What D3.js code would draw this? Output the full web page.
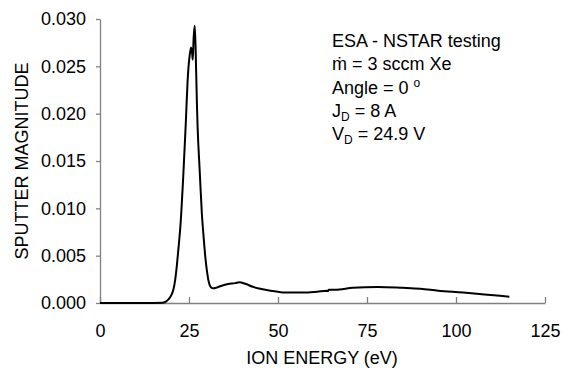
<!DOCTYPE html>
<html>
<head>
<meta charset="utf-8">
<script src="https://cdn.jsdelivr.net/npm/d3@7"></script>
<style>
  body { margin: 0; background: #fff; }
  svg text { font-family: "Liberation Sans", Arial, sans-serif; fill: #000; }
</style>
</head>
<body>
<div id="chart"></div>
<script>
// Ion energy (eV) and sputter magnitude
const energy = [0, 10, 15, 17.5, 18.5, 19.3, 20, 20.6, 21.1, 21.6, 22.1, 22.6, 23.4, 24.1, 24.6, 25.2, 25.6, 25.9, 26.05, 26.3, 26.6, 26.85, 27.2, 27.4, 28.0, 28.6, 29.1, 29.6, 30.0, 30.4, 30.8, 31.2, 31.7, 32.5, 34, 36, 38, 39.1, 41, 43, 45, 48, 52, 57, 61, 63.7, 64.0, 64.3, 66, 71, 78, 85, 90, 95, 102, 108, 115];
const magnitude = [0, 0, 0.00001, 0.00003, 0.00015, 0.0004, 0.0008, 0.0014, 0.0024, 0.0040, 0.0060, 0.0082, 0.0135, 0.0190, 0.0234, 0.0262, 0.0270, 0.0263, 0.0257, 0.0280, 0.0293, 0.0270, 0.0214, 0.0188, 0.0140, 0.0095, 0.0070, 0.0048, 0.0035, 0.0025, 0.0019, 0.00165, 0.00155, 0.0016, 0.0018, 0.0020, 0.0021, 0.0022, 0.0020, 0.0017, 0.0015, 0.0013, 0.0011, 0.0011, 0.0012, 0.0013, 0.00125, 0.0014, 0.0014, 0.0016, 0.0017, 0.0016, 0.0015, 0.0013, 0.0011, 0.0009, 0.00067];

const xTicks = [0, 25, 50, 75, 100, 125];
const yTicks = [0, 0.005, 0.010, 0.015, 0.020, 0.025, 0.030];

const W = 565, H = 372;

const svg = d3.select("#chart").append("svg")
    .attr("width", W)
    .attr("height", H);

const x = d3.scaleLinear().domain([0, 125]).range([100, 545]);
const y = d3.scaleLinear().domain([0, 0.030]).range([303, 19]);

// Axes
const xAxis = svg.append("g")
    .attr("transform", "translate(0,303)")
    .call(d3.axisBottom(x).tickValues(xTicks).tickSize(-6).tickSizeOuter(0).tickPadding(21));

const yAxis = svg.append("g")
    .attr("transform", "translate(100,0)")
    .call(d3.axisLeft(y).tickValues(yTicks).tickFormat(d3.format(".3f")).tickSize(4).tickSizeOuter(0).tickPadding(10));

[xAxis, yAxis].forEach(g => {
    g.select(".domain").attr("stroke", "#808080").attr("stroke-width", 1.3);
    g.selectAll(".tick line").attr("stroke", "#808080").attr("stroke-width", 1.3);
    g.selectAll(".tick text")
        .attr("font-family", "Liberation Sans, Arial, sans-serif")
        .attr("font-size", 18)
        .attr("fill", "#000");
});

// Curve
const data = energy.map((e, i) => ({ e: e, v: magnitude[i] }));
const line = d3.line()
    .x(d => x(d.e))
    .y(d => y(d.v))
    .curve(d3.curveMonotoneX);

svg.append("path")
    .datum(data)
    .attr("fill", "none")
    .attr("stroke", "#000")
    .attr("stroke-width", 2)
    .attr("d", line);

// Axis titles
svg.append("text")
    .attr("x", 322)
    .attr("y", 364)
    .attr("text-anchor", "middle")
    .attr("font-size", 18)
    .text("ION ENERGY (eV)");

svg.append("text")
    .attr("transform", "translate(28,161) rotate(-90)")
    .attr("text-anchor", "middle")
    .attr("font-size", 18)
    .text("SPUTTER MAGNITUDE");

// Annotation
const note = svg.append("g").attr("font-size", 18);
const tx = 332;
note.append("text").attr("x", tx).attr("y", 47).text("ESA - NSTAR testing");
note.append("text").attr("x", tx).attr("y", 70).text("\u1E41 = 3 sccm Xe");

const ang = note.append("text").attr("x", tx).attr("y", 94);
ang.append("tspan").text("Angle = 0 ");
ang.append("tspan").attr("font-size", 12).attr("dy", -7).text("o");

const jd = note.append("text").attr("x", tx).attr("y", 117);
jd.append("tspan").text("J");
jd.append("tspan").attr("font-size", 12).attr("dy", 4).text("D");
jd.append("tspan").attr("dy", -4).text(" = 8 A");

const vd = note.append("text").attr("x", tx).attr("y", 140);
vd.append("tspan").text("V");
vd.append("tspan").attr("font-size", 12).attr("dy", 4).text("D");
vd.append("tspan").attr("dy", -4).text(" = 24.9 V");
</script>
</body>
</html>
